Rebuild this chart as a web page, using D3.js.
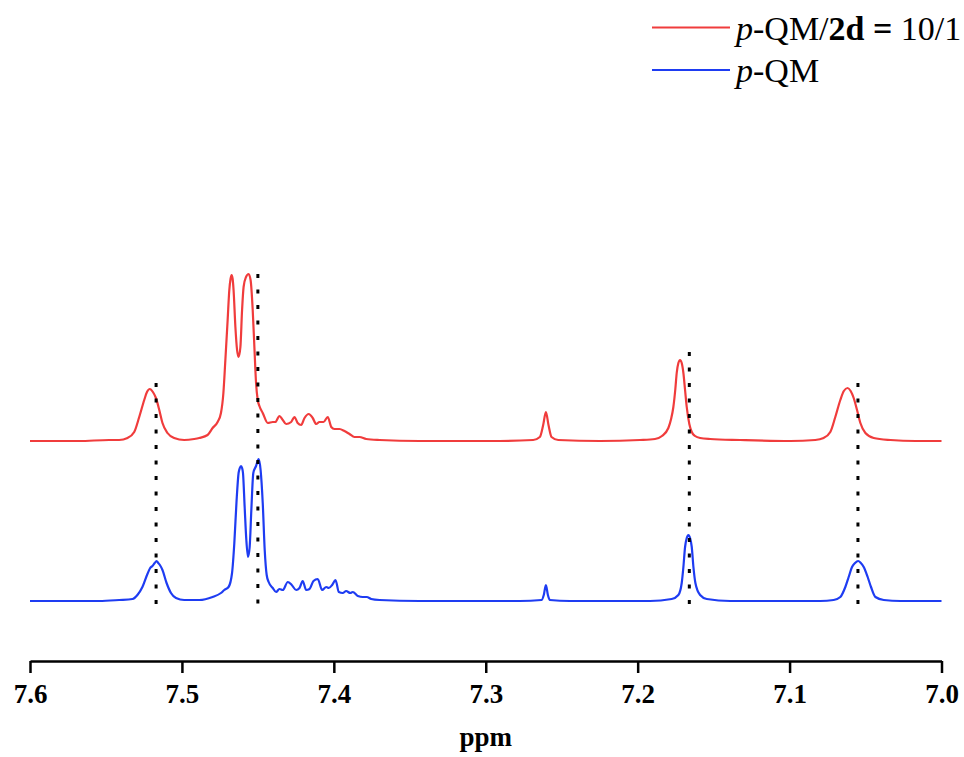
<!DOCTYPE html>
<html>
<head>
<meta charset="utf-8">
<script src="https://cdn.jsdelivr.net/npm/d3@7"></script>
<style>
  html, body { margin: 0; padding: 0; background: #fff; }
  svg { display: block; }
  text { font-family: "Liberation Serif", "Times New Roman", serif; }
</style>
</head>
<body>
<svg id="chart" width="964" height="757"></svg>
<script>
// 1H NMR spectra (aromatic region), chemical shift in ppm vs. intensity (a.u.)
const tickValues = [7.6, 7.5, 7.4, 7.3, 7.2, 7.1, 7.0];
const axisTitle = "ppm";

// p-QM/2d = 10/1 mixture
const mixPpm = [
  7.6000, 7.5677, 7.5479, 7.5413, 7.5358, 7.5314, 7.5281, 7.5248, 7.5230, 7.5211,
  7.5191, 7.5171, 7.5149, 7.5128, 7.5095, 7.5051, 7.4985, 7.4919, 7.4886, 7.4831,
  7.4798, 7.4765, 7.4743, 7.4727, 7.4714, 7.4699, 7.4688, 7.4680, 7.4673, 7.4666,
  7.4660, 7.4648, 7.4637, 7.4627, 7.4615, 7.4604, 7.4594, 7.4578, 7.4561, 7.4548,
  7.4534, 7.4523, 7.4512, 7.4501, 7.4490, 7.4468, 7.4435, 7.4402, 7.4385, 7.4358,
  7.4336, 7.4314, 7.4281, 7.4259, 7.4238, 7.4215, 7.4193, 7.4165, 7.4139, 7.4116,
  7.4095, 7.4068, 7.4040, 7.4017, 7.3996, 7.3963, 7.3930, 7.3897, 7.3864, 7.3831,
  7.3787, 7.3699, 7.3435, 7.2908, 7.2688, 7.2644, 7.2622, 7.2604, 7.2587, 7.2567,
  7.2523, 7.2248, 7.1985, 7.1886, 7.1840, 7.1798, 7.1780, 7.1765, 7.1752, 7.1743,
  7.1732, 7.1721, 7.1710, 7.1699, 7.1688, 7.1677, 7.1660, 7.1644, 7.1622, 7.1589,
  7.1523, 7.1325, 7.0996, 7.0831, 7.0776, 7.0732, 7.0699, 7.0666, 7.0643, 7.0618,
  7.0598, 7.0578, 7.0556, 7.0534, 7.0501, 7.0446, 7.0336, 7.0171, 7.0000
];
const mixIntensity = [
  0, 0, 1, 1, 3, 9, 24, 41, 49, 52,
  49, 43, 31, 18, 8, 3, 1, 2, 3, 6,
  13, 19, 28, 48, 81, 121, 151, 162, 166, 162,
  151, 114, 91, 84, 94, 131, 154, 164, 167, 161,
  131, 94, 58, 41, 35, 28, 18, 19, 19, 25,
  21, 17, 19, 24, 18, 16, 23, 27, 23, 17,
  19, 19, 24, 14, 12, 12, 10, 7, 4, 4,
  2, 1, 0, 0, 1, 4, 16, 29, 16, 4,
  1, 0, 1, 2, 5, 13, 22, 34, 52, 68,
  78, 81, 78, 68, 51, 34, 17, 9, 5, 3,
  2, 1, 0, 1, 3, 9, 24, 41, 50, 53,
  50, 43, 31, 18, 8, 3, 1, 0, 0
];

// p-QM alone
const qmPpm = [
  7.6000, 7.5545, 7.5413, 7.5325, 7.5293, 7.5260, 7.5227, 7.5209, 7.5194, 7.5179,
  7.5167, 7.5156, 7.5145, 7.5128, 7.5101, 7.5072, 7.5039, 7.4985, 7.4886, 7.4798,
  7.4743, 7.4721, 7.4693, 7.4670, 7.4655, 7.4640, 7.4627, 7.4619, 7.4611, 7.4604,
  7.4598, 7.4587, 7.4576, 7.4565, 7.4554, 7.4543, 7.4530, 7.4512, 7.4495, 7.4482,
  7.4468, 7.4455, 7.4442, 7.4429, 7.4402, 7.4380, 7.4358, 7.4336, 7.4303, 7.4277,
  7.4248, 7.4226, 7.4205, 7.4182, 7.4160, 7.4134, 7.4106, 7.4077, 7.4050, 7.4033,
  7.4011, 7.3989, 7.3967, 7.3941, 7.3919, 7.3892, 7.3875, 7.3842, 7.3809, 7.3783,
  7.3754, 7.3699, 7.3435, 7.2776, 7.2633, 7.2618, 7.2604, 7.2591, 7.2578, 7.2446,
  7.1919, 7.1776, 7.1732, 7.1710, 7.1699, 7.1688, 7.1677, 7.1666, 7.1655, 7.1644,
  7.1633, 7.1620, 7.1589, 7.1545, 7.1391, 7.0798, 7.0710, 7.0666, 7.0633, 7.0611,
  7.0589, 7.0569, 7.0549, 7.0531, 7.0512, 7.0486, 7.0464, 7.0435, 7.0380, 7.0270,
  7.0000
];
const qmIntensity = [
  0, 0, 1, 2, 6, 14, 27, 33, 35, 38,
  40, 38, 36, 31, 18, 8, 3, 1, 1, 4,
  8, 11, 14, 28, 58, 101, 128, 133, 135, 133,
  128, 94, 61, 44, 54, 91, 128, 135, 142, 131,
  98, 51, 26, 19, 13, 9, 12, 11, 19, 16,
  11, 13, 20, 11, 12, 20, 22, 11, 14, 13,
  16, 21, 9, 8, 10, 8, 9, 5, 4, 4,
  2, 1, 0, 0, 1, 6, 16, 6, 1, 0,
  0, 2, 6, 18, 34, 54, 63, 66, 63, 54,
  34, 18, 6, 2, 0, 0, 1, 4, 14, 24,
  34, 38, 40, 38, 34, 24, 14, 4, 1, 0,
  0
];

// vertical stacking of the two traces (same intensity units)
const seriesNames = ["p-QM/2d = 10/1", "p-QM"];
const seriesOffsets = [160, 0];
const seriesColors = ["#f03c3c", "#1e3cf2"];

// reference shifts of p-QM signals, drawn as dotted guides
const guidePpm = [7.517, 7.450, 7.166, 7.055];
const guideTop = [218, 327, 249, 218];
const guideBottom = -4;

const svg = d3.select("#chart");

const x = d3.scaleLinear().domain([7.6, 7.0]).range([30, 941.5]);
const y = d3.scaleLinear().domain([0, 400]).range([601, 201]);

const series = [
  { ppm: mixPpm, val: mixIntensity },
  { ppm: qmPpm, val: qmIntensity }
].map((s, i) => ({
  name: seriesNames[i],
  color: seriesColors[i],
  offset: seriesOffsets[i],
  points: s.ppm.map((p, j) => [p, s.val[j]])
}));

const line = d3.line().curve(d3.curveMonotoneX);

svg.append("g")
  .selectAll("path")
  .data(series)
  .join("path")
  .attr("fill", "none")
  .attr("stroke", d => d.color)
  .attr("stroke-width", 2.2)
  .attr("stroke-linejoin", "round")
  .attr("d", d => line(d.points.map(([p, v]) => [x(p), y(v + d.offset)])));

// dotted guides
svg.append("g")
  .selectAll("line")
  .data(guidePpm)
  .join("line")
  .attr("x1", d => x(d))
  .attr("x2", d => x(d))
  .attr("y1", (d, i) => y(guideTop[i]))
  .attr("y2", y(guideBottom))
  .attr("stroke", "#000")
  .attr("stroke-width", 3)
  .attr("stroke-dasharray", "4 11.5");

// x axis
const axis = svg.append("g")
  .attr("transform", "translate(0,661)")
  .call(d3.axisBottom(x)
    .tickValues(tickValues)
    .tickFormat(d3.format(".1f"))
    .tickSize(12)
    .tickSizeOuter(0)
    .tickPadding(11));
axis.select(".domain").attr("stroke", "#000").attr("stroke-width", 2.5);
axis.selectAll(".tick line").attr("stroke", "#000").attr("stroke-width", 2.5);
axis.selectAll(".tick text")
  .attr("fill", "#000")
  .style("font-family", "'Liberation Serif', 'Times New Roman', serif")
  .style("font-size", "27px")
  .style("font-weight", "bold");

svg.append("text")
  .attr("x", (x(7.6) + x(7.0)) / 2)
  .attr("y", 746)
  .attr("text-anchor", "middle")
  .style("font-size", "27px")
  .style("font-weight", "bold")
  .text(axisTitle);

// legend
const legendRows = [
  { color: seriesColors[0], parts: [["p", "italic", "normal"], ["-QM/", "normal", "normal"], ["2d =", "normal", "bold"], [" 10/1", "normal", "normal"]] },
  { color: seriesColors[1], parts: [["p", "italic", "normal"], ["-QM", "normal", "normal"]] }
];
const legend = svg.append("g");
legendRows.forEach((row, i) => {
  const cy = 27.5 + i * 42.5;
  legend.append("line")
    .attr("x1", 652).attr("x2", 730)
    .attr("y1", cy).attr("y2", cy)
    .attr("stroke", row.color)
    .attr("stroke-width", 2);
  const t = legend.append("text")
    .attr("x", 736)
    .attr("y", cy + 12)
    .style("font-size", "34px")
    .attr("fill", "#000")
    .attr("xml:space", "preserve");
  row.parts.forEach(([txt, fs, fw]) => {
    t.append("tspan")
      .style("font-style", fs)
      .style("font-weight", fw)
      .text(txt);
  });
});
</script>
</body>
</html>
